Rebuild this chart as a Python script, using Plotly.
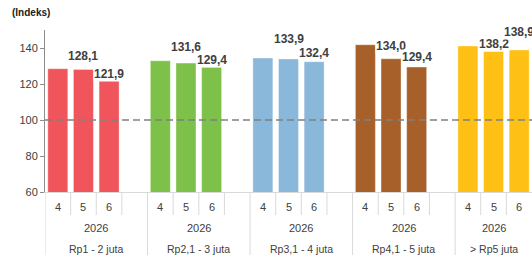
import plotly.graph_objects as go

# ---- data ----
groups = ["Rp1 - 2 juta", "Rp2,1 - 3 juta", "Rp3,1 - 4 juta", "Rp4,1 - 5 juta", "> Rp5 juta"]
months = ["4", "5", "6"]
year_label = "2026"
values = {
    "Rp1 - 2 juta":   [128.5, 128.1, 121.9],
    "Rp2,1 - 3 juta": [132.9, 131.6, 129.4],
    "Rp3,1 - 4 juta": [134.4, 133.9, 132.4],
    "Rp4,1 - 5 juta": [141.8, 134.0, 129.4],
    "> Rp5 juta":     [141.1, 138.2, 138.9],
}
reference_level = 100
y_ticks = [60, 80, 100, 120, 140]

# ---- styles ----
colors = ["#F0555B", "#7DC14A", "#8AB8DB", "#A8602A", "#FEC014"]
label_shift = {  # px above bar top for labels on months 5 and 6
    "Rp1 - 2 juta": [13, 7],
    "Rp2,1 - 3 juta": [16, 7],
    "Rp3,1 - 4 juta": [20, 9],
    "Rp4,1 - 5 juta": [13, 10],
    "> Rp5 juta": [7, 18],
}
text_color = "#404040"
sep_color = "#D9D9D9"
FONT = "Liberation Sans, Arial, sans-serif"

fig = go.Figure()
annotations = []
shapes = []

slot = 0
for gi, g in enumerate(groups):
    n = len(months) + (1 if gi < len(groups) - 1 else 0)
    xs = [slot + i for i in range(len(months))]
    fig.add_trace(go.Bar(
        x=xs, y=values[g], width=0.78,
        marker=dict(color=colors[gi], line=dict(color="rgba(255,255,255,0.6)", width=0.6)),
        showlegend=False, hoverinfo="skip",
    ))
    # value labels for months 5 and 6
    for k, mi in enumerate([1, 2]):
        v = values[g][mi]
        annotations.append(dict(
            x=xs[mi], y=v, xref="x", yref="y", yshift=label_shift[g][k],
            text=f"{v:.1f}".replace(".", ","), showarrow=False,
            font=dict(family=FONT, size=12, color=text_color, weight="bold"),
            bgcolor="white", borderpad=0, yanchor="middle",
        ))
    # month labels
    for i, m in enumerate(months):
        annotations.append(dict(
            x=xs[i], y=-0.09, xref="x", yref="paper", text=m, showarrow=False,
            font=dict(family=FONT, size=11, color=text_color), yanchor="middle",
        ))
    center = slot + (n - 1) / 2
    annotations.append(dict(
        x=center, y=-0.222, xref="x", yref="paper", text=year_label, showarrow=False,
        font=dict(family=FONT, size=11, color=text_color), yanchor="middle",
    ))
    annotations.append(dict(
        x=center, y=-0.352, xref="x", yref="paper", text=g, showarrow=False,
        font=dict(family=FONT, size=10.5, color=text_color), yanchor="middle",
    ))
    # separators
    for i in range(n - 1):
        shapes.append(dict(type="line", xref="x", yref="paper",
                           x0=slot + i + 0.5, x1=slot + i + 0.5, y0=0, y1=-0.142,
                           line=dict(color=sep_color, width=1)))
    shapes.append(dict(type="line", xref="x", yref="paper",
                       x0=slot - 0.5, x1=slot - 0.5, y0=0, y1=-0.389,
                       line=dict(color=sep_color, width=1)))
    slot += n

total_slots = slot

# reference dashed line
shapes.append(dict(type="line", xref="paper", yref="y", x0=0, x1=1,
                   y0=reference_level, y1=reference_level, layer="above",
                   line=dict(color="#808080", width=1.5, dash="7px,4px")))

annotations.append(dict(
    x=-35 / 487, y=1 + (30 - 13) / 162, xref="paper", yref="paper",
    xanchor="left", yanchor="middle",
    text="<b>(Indeks)</b>", showarrow=False,
    font=dict(family=FONT, size=10, color="#202020"),
))

fig.update_layout(
    width=532, height=262,
    margin=dict(l=45, r=0, t=30, b=70),
    paper_bgcolor="white", plot_bgcolor="white",
    annotations=annotations, shapes=shapes,
    xaxis=dict(range=[-0.5, total_slots - 0.5], showticklabels=False, ticks="",
               showgrid=False, zeroline=False, showline=True, linecolor=sep_color, linewidth=1),
    yaxis=dict(range=[60, 150], tickvals=y_ticks, showgrid=False, zeroline=False,
               showline=True, linecolor="#8C8C8C", linewidth=1,
               ticks="outside", ticklen=4, tickcolor="#8C8C8C",
               tickfont=dict(family=FONT, size=11, color=text_color)),
)

fig.write_html(
    "out.html",
    config={"displayModeBar": False},
    post_script="document.body.style.margin='0';document.body.style.overflow='hidden';",
)
